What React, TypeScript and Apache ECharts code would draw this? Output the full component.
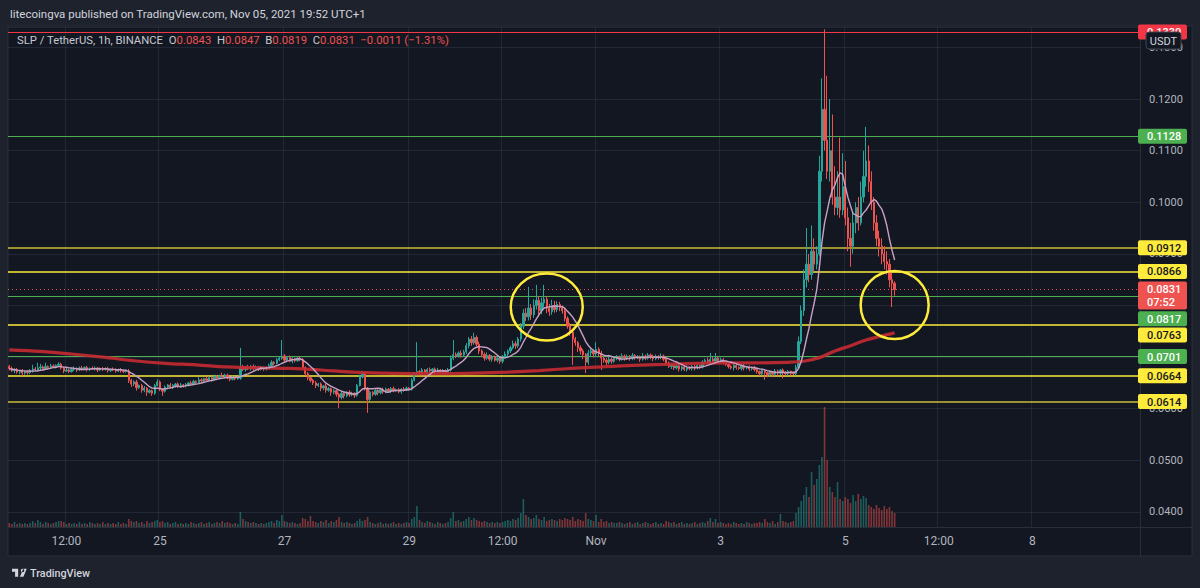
import React, { useEffect, useRef } from 'react';
import * as echarts from 'echarts';

// ---------- DATA (prices in 1e-4 USDT, hourly candles from 22 Oct 14:00) ----------
const FIRST_HOUR_UTC = Date.UTC(2021, 9, 22, 14);
const CATEGORY_COUNT = 436; // visible hourly slots, including the empty space at the right
const FIRST_OPEN = 682;

const closes = [
  678, 674, 676, 671, 673, 669, 672, 670,
  674, 677, 675, 679, 681, 678, 682, 680, 683, 681, 684, 686,
  679, 673, 675, 672,
  676, 678, 675, 679, 677, 680, 676, 678, 677, 679, 675, 677, 676, 678, 674, 676, 675, 673, 676, 674, 672, 673,
  655, 648,
  652, 641, 645, 636, 640, 632, 635, 630,
  645, 652,
  638, 634,
  642, 646, 641, 645, 648, 643, 646, 644,
  647, 650, 648, 653, 651, 656, 654, 658, 655, 660, 657, 662, 659, 664, 661, 665,
  660, 657, 661, 658, 659,
  681,
  676, 680, 677, 682, 678, 681, 676, 679, 677, 680,
  684, 690, 688, 695, 698,
  702, 694, 699, 692, 697, 693, 698, 695,
  680, 668, 660, 655,
  650, 645, 648, 640, 644, 636, 639, 632, 635, 628,
  622, 630, 625, 632, 627, 630, 626,
  645, 662, 668,
  640, 618,
  632, 628, 636, 631, 637, 633, 638, 634, 639, 635, 637, 633, 638, 636, 640, 638,
  655, 668, 672,
  670, 675, 671, 676, 673, 677, 672, 675, 670, 674, 671, 675,
  698, 705,
  702, 708, 704, 710,
  722, 735, 728, 738,
  725, 712, 705, 698, 703, 696, 700, 694, 698, 692,
  700, 706, 712, 718, 726, 722, 735,
  760, 785, 778,
  795, 782, 800, 810, 790, 805, 812, 795, 788, 800,
  792, 802, 796, 790,
  775, 760, 748, 735, 728, 718,
  712, 705, 690, 708, 712, 706, 715, 708,
  698, 694, 690, 696, 692, 697,
  700, 696, 702, 698, 701, 697, 703, 699, 700, 696, 702, 698, 704, 700, 697, 701, 699, 702, 696,
  688, 682, 685, 679, 683, 677, 681, 676, 680, 678, 682, 679, 684, 681,
  690, 694, 689, 696, 692, 698, 693, 695, 690, 686,
  682, 679, 684, 680, 678, 683, 679, 681, 677, 680, 676,
  672, 668, 674, 670, 666, 671, 667, 673, 669, 675, 671, 668, 672, 669, 668,
  680, 730, 790, 850, 880, 860, 905, 880, 900, 1060, 1180, 1120, 1060, 1100, 1010, 990, 1010, 985, 1030, 970,
  930, 915, 960, 990, 960, 1010, 1050, 1080, 1040, 1000, 960, 930, 915, 900, 885, 880, 850, 843, 831,
];

const upperWicks = [
  3, 4, 2, 3, 2, 4, 2, 3,
  3, 8, 4, 10, 6, 3, 7, 2, 4, 3, 2, 4,
  3, 2, 4, 3,
  3, 4, 2, 3, 4, 2, 3, 2, 4, 3, 2, 3, 4, 2, 3, 2, 4, 3, 2, 3, 2, 3,
  4, 3,
  3, 4, 2, 3, 4, 2, 3, 2,
  3, 5,
  3, 2,
  3, 2, 4, 3, 2, 3, 4, 2,
  3, 2, 4, 3, 2, 5, 3, 2, 4, 3, 2, 4, 3, 2, 6, 3,
  3, 2, 3, 2, 3,
  37,
  4, 3, 5, 3, 4, 3, 2, 4, 3, 2,
  3, 4, 2, 3, 4,
  31, 4, 3, 4, 3, 2, 4, 3,
  3, 2, 3, 2,
  3, 4, 2, 3, 2, 4, 3, 2, 3, 2,
  3, 4, 3, 2, 4, 3, 2,
  3, 4, 5,
  3, 2,
  3, 2, 4, 3, 2, 4, 3, 2, 3, 4, 2, 3, 2, 4, 3, 2,
  4, 3, 57,
  3, 4, 2, 3, 4, 2, 3, 4, 2, 3, 2, 4,
  5, 28,
  4, 3, 5, 4,
  5, 4, 6, 9,
  4, 5, 3, 4, 6, 3, 4, 3, 5, 3,
  4, 5, 3, 4, 6, 5, 4,
  6, 8, 10,
  41, 8, 12, 30, 8, 10, 28, 6, 8, 11,
  9, 6, 5, 4,
  5, 4, 6, 5, 4, 3,
  5, 4, 3, 6, 5, 3, 14, 4,
  4, 3, 4, 5, 3, 4,
  4, 3, 5, 3, 4, 3, 5, 3, 4, 3, 6, 3, 4, 3, 5, 4, 3, 5, 3,
  3, 4, 3, 2, 4, 3, 2, 3, 4, 2, 3, 4, 3, 2,
  4, 3, 5, 12, 4, 10, 3, 4, 3, 2,
  3, 2, 4, 3, 2, 3, 4, 2, 3, 2, 3,
  3, 2, 4, 3, 2, 3, 2, 4, 3, 2, 3, 2, 3, 2, 3,
  5, 10, 10, 20, 70, 20, 50, 25, 15, 30, 60, 155, 125, 100, 70, 60, 50, 115, 65, 50,
  20, 30, 20, 10, 20, 30, 50, 66, 30, 20, 10, 15, 15, 15, 15, 20, 10, 15, 4,
];

const lowerWicks = [
  4, 3, 5, 3, 4, 6, 3, 4,
  3, 4, 2, 3, 4, 3, 2, 4, 3, 2, 3, 2,
  3, 4, 2, 3,
  2, 3, 4, 2, 3, 2, 4, 3, 2, 3, 4, 2, 3, 2, 4, 3, 2, 3, 2, 4, 3, 2,
  5, 6,
  4, 6, 3, 5, 4, 7, 3, 5,
  3, 2,
  4, 9,
  3, 4, 2, 3, 4, 3, 2, 3,
  3, 4, 2, 3, 4, 2, 3, 4, 2, 3, 4, 2, 3, 2, 3, 2,
  3, 4, 2, 3, 2,
  3,
  3, 4, 2, 3, 4, 2, 3, 2, 4, 3,
  2, 3, 4, 2, 3,
  3, 4, 3, 2, 4, 3, 2, 3,
  3, 4, 5, 4,
  4, 5, 3, 6, 4, 5, 3, 7, 4, 5,
  21, 4, 5, 3, 4, 3, 5,
  3, 2, 3,
  5, 26,
  3, 4, 3, 5, 3, 4, 3, 2, 4, 3, 2, 3, 4, 3, 2, 3,
  3, 2, 4,
  3, 2, 4, 3, 2, 3, 4, 2, 3, 2, 4, 3,
  3, 4,
  4, 3, 5, 3,
  4, 5, 6, 4,
  5, 6, 4, 5, 3, 4, 5, 3, 4, 5,
  4, 3, 5, 4, 3, 6, 4,
  5, 6, 8,
  7, 10, 6, 8, 12, 7, 9, 10, 8, 6,
  6, 5, 7, 6,
  6, 5, 7, 50, 6, 8,
  7, 9, 21, 5, 6, 7, 5, 6,
  23, 5, 6, 4, 5, 3,
  3, 4, 3, 5, 3, 4, 3, 4, 3, 5, 3, 4, 3, 4, 5, 3, 4, 3, 4,
  4, 3, 5, 4, 3, 5, 4, 3, 4, 3, 4, 5, 3, 4,
  3, 4, 3, 4, 3, 5, 4, 3, 4, 3,
  4, 3, 5, 4, 3, 4, 5, 3, 4, 3, 4,
  4, 5, 3, 14, 5, 4, 6, 3, 5, 4, 12, 5, 4, 5, 3,
  3, 2, 5, 10, 15, 15, 10, 15, 10, 5, 20, 20, 15, 20, 15, 15, 15, 15, 10, 15,
  25, 40, 15, 20, 15, 5, 10, 20, 20, 15, 15, 15, 20, 20, 15, 20, 15, 46, 12,
];

// volume, millions of SLP
const volumeM = [
  4, 3, 5, 3, 4, 3, 4, 3,
  4, 6, 4, 7, 5, 3, 5, 4, 3, 4, 5, 6,
  6, 5, 3, 4,
  3, 4, 3, 5, 3, 4, 3, 5, 4, 3, 4, 3, 5, 3, 4, 3, 4, 3, 5, 3, 4, 3,
  8, 6,
  5, 6, 4, 5, 3, 6, 4, 5,
  6, 7,
  5, 6,
  4, 5, 3, 4, 5, 3, 4, 3,
  4, 3, 5, 4, 3, 4, 5, 3, 4, 5, 3, 4, 5, 4, 6, 4,
  5, 4, 3, 4, 3,
  15,
  8, 6, 5, 4, 5, 4, 3, 4, 3, 4,
  5, 6, 4, 7, 6,
  12, 6, 5, 4, 5, 4, 3, 4,
  9, 8, 6, 11,
  6, 5, 4, 6, 5, 7, 4, 6, 5, 7,
  10, 5, 4, 5, 4, 3, 4,
  6, 8, 6,
  7, 10,
  5, 4, 3, 4, 5, 3, 4, 3, 4, 5, 3, 4, 3, 4, 5, 4,
  8, 10, 21,
  7, 5, 4, 6, 5, 4, 3, 5, 4, 3, 4, 5,
  9, 15,
  6, 7, 5, 6,
  8, 10, 7, 9,
  7, 6, 5, 6, 5, 4, 5, 4, 5, 4,
  5, 6, 7, 6, 8, 7, 9,
  14, 28, 12,
  10, 8, 9, 12, 8, 7, 10, 6, 7, 8,
  7, 6, 8, 7,
  9, 8, 7, 10, 6, 8,
  7, 6, 14, 8, 7, 6, 12, 5,
  8, 5, 6, 4, 5, 4,
  4, 5, 4, 3, 4, 5, 3, 4, 5, 3, 4, 5, 4, 3, 4, 5, 3, 4, 3,
  6, 5, 4, 5, 3, 4, 5, 3, 4, 3, 4, 5, 3, 4,
  5, 4, 6, 9, 5, 8, 4, 5, 4, 3,
  4, 3, 5, 4, 3, 4, 3, 5, 4, 3, 4,
  4, 5, 4, 8, 5, 4, 6, 3, 5, 13, 6, 5, 4, 5, 6,
  14, 20, 26, 32, 40, 30, 55, 42, 48, 62, 70, 120, 67, 40, 35, 30, 45, 28, 26, 30,
  28, 24, 32, 26, 33, 28, 31, 29, 22, 20, 18, 22, 19, 17, 21, 18, 20, 16, 14,
];

// long moving average, [candle index, 1e-4 USDT]
const longMaIndex = [0, 12, 24, 36, 48, 60, 72, 84, 96, 108, 120, 132, 144, 156, 168, 180, 192, 204, 216, 228, 240, 252, 264, 276, 288, 300, 306, 312, 318, 324, 330, 336, 341];
const longMaValue = [714, 711, 706, 700, 693, 688, 685, 681, 679, 678, 675, 671, 669, 668, 668, 669, 671, 674, 678, 681, 684, 686, 688, 689, 689, 690, 692, 699, 712, 722, 733, 741, 747];
const SHORT_MA_PERIOD = 9;

const tickCategories = ['10-23 12:00', '10-25 00:00', '10-27 00:00', '10-29 00:00', '10-30 12:00', '11-01 00:00', '11-03 00:00', '11-05 00:00', '11-06 12:00', '11-08 00:00'];
const tickTexts = ['12:00', '25', '27', '29', '12:00', 'Nov', '3', '5', '12:00', '8'];

const levelValues = [0.1330, 0.1128, 0.0912, 0.0866, 0.0817, 0.0763, 0.0701, 0.0664, 0.0614];
const levelKinds = ['red', 'green', 'yellow', 'yellow', 'green', 'yellow', 'green', 'yellow', 'yellow'];
const LAST_PRICE = 0.0831;
const COUNTDOWN = '07:52';

const HEADER_TEXT = 'litecoingva published on TradingView.com, Nov 05, 2021 19:52 UTC+1';
const SYMBOL_TEXT = 'SLP / TetherUS, 1h, BINANCE';
const legendKeys = ['O', 'H', 'B', 'C'];
const legendValues = ['0.0843', '0.0847', '0.0819', '0.0831'];
const CHANGE_TEXT = '\u22120.0011 (\u22121.31%)';

// annotation circles: [candle index, price]
const circleCenters = [[207, 0.0797], [341, 0.0801]];

// ---------- STYLE ----------
const FONT = 'Roboto, "Noto Sans", "DejaVu Sans", sans-serif';
const UP = '#26a69a';
const DOWN = '#ef5350';
const PANE_BG = '#131722';
const OUTER_BG = '#1e222d';
const BORDER = '#2a2e39';
const AXIS_TEXT = '#b2b5be';
const GRID_LINE = 'rgba(54,60,78,0.45)';
const kindColors: Record<string, { line: string; bg: string; fg: string; width: number }> = {
  red: { line: '#f23645', bg: '#f23645', fg: '#ffffff', width: 1.2 },
  green: { line: '#4caf50', bg: '#4caf50', fg: '#ffffff', width: 1 },
  yellow: { line: '#ffeb3b', bg: '#ffeb3b', fg: '#131722', width: 1.5 },
};
const tagShiftPx = [0, 0, 0, 0, 22, 10.5, 0, 0, 0];
const dimLine = [false, false, true, false, false, false, false, false, true];
const circleRadii = [[36, 33.5], [34, 34]];

const TV_LOGO_PATH = 'M14 22H7V11H0V4h14v18zM28 8a4 4 0 1 1-8 0a4 4 0 1 1 8 0zM18 22h8l7.5-18h-8z';
echarts.graphic.registerShape('tvlogo', echarts.graphic.extendPath(TV_LOGO_PATH, {}));

const pad = (n: number) => String(n).padStart(2, '0');
const categories = Array.from({ length: CATEGORY_COUNT }, (_, i) => {
  const d = new Date(FIRST_HOUR_UTC + i * 3600000);
  return `${pad(d.getUTCMonth() + 1)}-${pad(d.getUTCDate())} ${pad(d.getUTCHours())}:00`;
});

function buildOption() {
  const n = Math.min(closes.length, upperWicks.length, lowerWicks.length, volumeM.length);
  const candles: number[][] = [];
  const vols: any[] = [];
  for (let i = 0; i < n; i++) {
    const o = i === 0 ? FIRST_OPEN : closes[i - 1];
    const c = closes[i];
    const h = Math.max(o, c) + upperWicks[i];
    const l = Math.min(o, c) - lowerWicks[i];
    candles.push([o / 1e4, c / 1e4, l / 1e4, h / 1e4]);
    vols.push({ value: volumeM[i], itemStyle: { color: c >= o ? 'rgba(38,166,154,0.5)' : 'rgba(239,83,80,0.5)' } });
  }
  const shortMa = closes.slice(0, n).map((_, i) => {
    const from = Math.max(0, i - SHORT_MA_PERIOD + 1);
    const win = closes.slice(from, i + 1);
    return win.reduce((a, b) => a + b, 0) / win.length / 1e4;
  });
  const longMa = longMaIndex.map((idx, k) => [idx, longMaValue[k] / 1e4]);

  const markData: any[] = levelValues.map((v, k) => ({
    yAxis: v,
    lineStyle: {
      color: kindColors[levelKinds[k]].line,
      width: kindColors[levelKinds[k]].width,
      type: 'solid',
      opacity: dimLine[k] ? 0.78 : 1,
    },
  }));
  markData.push({ yAxis: LAST_PRICE, lineStyle: { color: DOWN, width: 1, type: [1, 3] } });

  const tickSet = new Set(tickCategories);
  const tickMap: Record<string, string> = {};
  tickCategories.forEach((c, k) => (tickMap[c] = tickTexts[k]));

  return {
    animation: false,
    backgroundColor: OUTER_BG,
    grid: { left: 8, right: 60, top: 27, bottom: 61, containLabel: false },
    xAxis: {
      type: 'category',
      data: categories,
      boundaryGap: true,
      axisLine: { show: false },
      axisTick: { show: false },
      axisLabel: {
        interval: (_i: number, v: string) => tickSet.has(v),
        formatter: (v: string) => tickMap[v] || '',
        color: AXIS_TEXT,
        fontSize: 12,
        fontFamily: FONT,
        margin: 8,
      },
      splitLine: { show: true, interval: (_i: number, v: string) => tickSet.has(v), lineStyle: { color: GRID_LINE, width: 1 } },
    },
    yAxis: [
      {
        type: 'value',
        position: 'right',
        min: 0.03709,
        max: 0.13395,
        splitNumber: 10,
        minInterval: 0.01,
        maxInterval: 0.01,
        axisLine: { show: false },
        axisTick: { show: false },
        axisLabel: {
          color: AXIS_TEXT,
          fontSize: 11,
          fontFamily: FONT,
          margin: 9,
          showMinLabel: false,
          showMaxLabel: false,
          formatter: (v: number) => (Math.abs(v * 100 - Math.round(v * 100)) < 1e-6 ? v.toFixed(4) : ''),
        },
        splitLine: { show: true, lineStyle: { color: GRID_LINE, width: 1 } },
      },
      { type: 'value', min: 0, max: 500, show: false },
    ],
    series: [
      {
        type: 'bar',
        yAxisIndex: 1,
        data: vols,
        barWidth: 1.6,
        z: 1,
        silent: true,
      },
      {
        type: 'candlestick',
        data: candles,
        barWidth: 1.8,
        z: 3,
        itemStyle: { color: UP, color0: DOWN, borderColor: UP, borderColor0: DOWN, borderWidth: 1 },
        markLine: { symbol: 'none', silent: true, precision: 6, label: { show: false }, data: markData, z: 2 },
      },
      {
        type: 'line',
        data: longMa,
        smooth: 0.35,
        showSymbol: false,
        z: 4,
        lineStyle: { color: '#c62a31', width: 3.2, opacity: 0.9 },
      },
      {
        type: 'line',
        data: shortMa,
        showSymbol: false,
        z: 5,
        lineStyle: { color: '#c9a1c6', width: 1.4 },
      },
    ],
  };
}

function buildGraphics(chart: any) {
  const els: any[] = [];
  // pane background & frame
  els.push({ type: 'rect', z: -5, shape: { x: 8, y: 26, width: 1184, height: 530 }, style: { fill: PANE_BG, stroke: BORDER, lineWidth: 1 } });
  els.push({ type: 'line', z: 1, shape: { x1: 1140.5, y1: 26, x2: 1140.5, y2: 556 }, style: { stroke: BORDER, lineWidth: 1 } });
  els.push({ type: 'line', z: 1, shape: { x1: 8, y1: 527.5, x2: 1192, y2: 527.5 }, style: { stroke: BORDER, lineWidth: 1 } });

  // header & legend
  els.push({ type: 'text', z: 10, x: 10, y: 14, style: { text: HEADER_TEXT, fill: '#d1d4dc', fontSize: 11.5, fontFamily: FONT, verticalAlign: 'middle' } });
  let legend = `{n|${SYMBOL_TEXT}}  `;
  legendKeys.forEach((k, i) => (legend += `{k|${k}}{v|${legendValues[i]}}  `));
  legend += `{v|${CHANGE_TEXT}}`;
  const LF = 11.3;
  els.push({
    type: 'text', z: 10, x: 17, y: 40,
    style: {
      text: legend, verticalAlign: 'middle', fontFamily: FONT, fontSize: LF,
      rich: {
        n: { fill: '#c5c8d0', fontSize: LF, fontFamily: FONT },
        k: { fill: '#c5c8d0', fontSize: LF, fontFamily: FONT },
        v: { fill: DOWN, fontSize: LF, fontFamily: FONT },
      },
    },
  });

  // circles
  circleCenters.forEach((c, k) => {
    const p = chart.convertToPixel({ gridIndex: 0 }, c);
    els.push({ type: 'ellipse', z: 12, shape: { cx: p[0], cy: p[1], rx: circleRadii[k][0], ry: circleRadii[k][1] }, style: { fill: 'none', stroke: '#ffeb3b', lineWidth: 2.5 } });
  });

  // price tags
  const tag = (y: number, text: string, bg: string, fg: string) => ({
    type: 'group', z: 20, x: 1138, y: y - 7.5,
    children: [
      { type: 'rect', z: 20, shape: { x: 0, y: 0, width: 49, height: 15, r: 2 }, style: { fill: bg } },
      { type: 'text', z: 21, x: 9, y: 8, style: { text, fill: fg, fontSize: 11, fontWeight: 500, fontFamily: FONT, verticalAlign: 'middle' } },
    ],
  });
  levelValues.forEach((v, k) => {
    const y = chart.convertToPixel({ yAxisIndex: 0 }, v) + tagShiftPx[k];
    const c = kindColors[levelKinds[k]];
    els.push(tag(y, v.toFixed(4), c.bg, c.fg));
  });
  const yLast = chart.convertToPixel({ yAxisIndex: 0 }, LAST_PRICE);
  els.push({
    type: 'group', z: 22, x: 1138, y: yLast - 8,
    children: [
      { type: 'rect', z: 22, shape: { x: 0, y: 0, width: 49, height: 28, r: 2 }, style: { fill: DOWN } },
      { type: 'text', z: 23, x: 9, y: 8, style: { text: LAST_PRICE.toFixed(4), fill: '#ffffff', fontSize: 11, fontWeight: 500, fontFamily: FONT, verticalAlign: 'middle' } },
      { type: 'text', z: 23, x: 9, y: 21, style: { text: COUNTDOWN, fill: '#ffffff', fontSize: 11, fontWeight: 500, fontFamily: FONT, verticalAlign: 'middle' } },
    ],
  });

  // currency box
  els.push({ type: 'rect', z: 30, shape: { x: 1146, y: 32, width: 35, height: 17, r: 3 }, style: { fill: PANE_BG, stroke: '#434651', lineWidth: 1 } });
  els.push({ type: 'text', z: 31, x: 1163.5, y: 41, style: { text: 'USDT', fill: '#d1d4dc', fontSize: 11, fontFamily: FONT, align: 'center', verticalAlign: 'middle' } });

  // footer logo
  els.push({ type: 'tvlogo', z: 10, x: 12, y: 567, scaleX: 0.44, scaleY: 0.44, style: { fill: '#d1d4dc' } });
  els.push({ type: 'text', z: 10, x: 30, y: 573, style: { text: 'TradingView', fill: '#d1d4dc', fontSize: 10.8, fontWeight: 500, fontFamily: FONT, verticalAlign: 'middle' } });
  return els;
}

export default function App() {
  const ref = useRef<HTMLDivElement>(null);
  useEffect(() => {
    document.body.style.margin = '0';
    const el = ref.current as HTMLDivElement;
    const chart = echarts.init(el, null, { renderer: 'svg' });
    chart.setOption(buildOption() as any);
    chart.setOption({ graphic: { elements: buildGraphics(chart) } } as any);
    return () => chart.dispose();
  }, []);
  return <div ref={ref} style={{ width: 1200, height: 588 }} />;
}
